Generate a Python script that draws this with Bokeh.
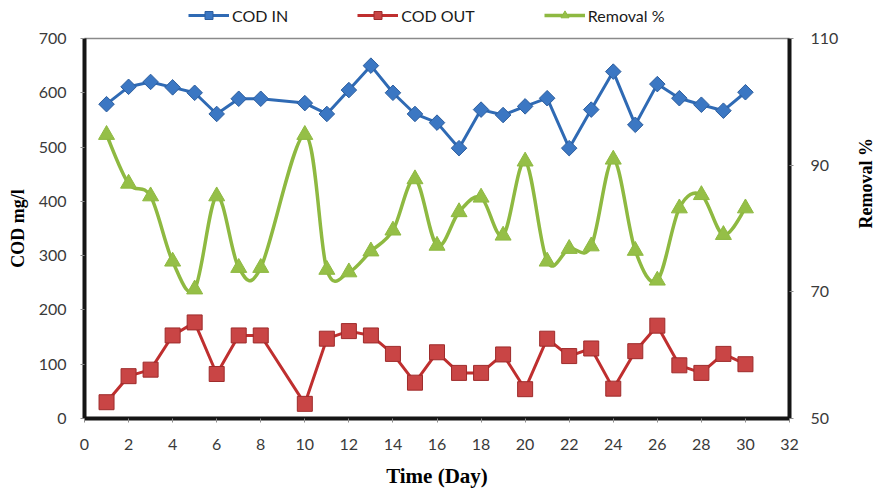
import numpy as np
from bokeh.plotting import figure
from bokeh.layouts import column
from bokeh.models import Range1d, LinearAxis, Legend, LegendItem, FixedTicker, ColumnDataSource
from bokeh.embed import file_html
from bokeh.resources import INLINE

# ---- data ----
days = [1, 2, 3, 4, 5, 6, 7, 8, 10, 11, 12, 13, 14, 15, 16, 17, 18, 19, 20, 21, 22, 23, 24, 25, 26, 27, 28, 29, 30]
cod_in = [579, 611, 620, 610, 600, 561, 589, 589, 581, 561, 605, 650, 600, 561, 545,
          498, 569, 559, 575, 590, 498, 569, 639, 541, 616, 590, 578, 567, 601]
cod_out = [30, 78, 90, 153, 177, 82, 153, 153, 27, 147, 161, 153, 119, 66, 122,
           84, 84, 118, 54, 147, 115, 129, 55, 124, 171, 98, 84, 119, 100]
removal = [94.8, 87.1, 85.1, 74.8, 70.4, 85.1, 73.8, 73.8, 94.8, 73.5, 73.1, 76.4, 79.7, 87.8, 77.3,
           82.6, 84.9, 78.9, 90.6, 74.8, 76.8, 77.2, 90.9, 76.5, 71.8, 83.2, 85.3, 79.0, 83.2]

x_ticks = list(range(0, 33, 2))
left_ticks = [0, 100, 200, 300, 400, 500, 600, 700]
right_ticks = [50, 70, 90, 110]

# ---- smoothed curve (Bezier segments built from the data points) ----
xa = np.array(days, dtype=float)
ya = np.array(removal, dtype=float)
xp = np.r_[xa[0], xa, xa[-1]]
yp = np.r_[ya[0], ya, ya[-1]]
n = len(xa)
bez = dict(x0=[], y0=[], x1=[], y1=[], cx0=[], cy0=[], cx1=[], cy1=[])
for i in range(n - 1):
    bez["x0"].append(xa[i]); bez["y0"].append(ya[i])
    bez["x1"].append(xa[i + 1]); bez["y1"].append(ya[i + 1])
    bez["cx0"].append(xa[i] + (xp[i + 2] - xp[i]) / 6.0)
    bez["cy0"].append(ya[i] + (yp[i + 2] - yp[i]) / 6.0)
    bez["cx1"].append(xa[i + 1] - (xp[i + 3] - xp[i + 1]) / 6.0)
    bez["cy1"].append(ya[i + 1] - (yp[i + 3] - yp[i + 1]) / 6.0)

src = ColumnDataSource(dict(day=days, cin=cod_in, cout=cod_out, rem=removal))
bsrc = ColumnDataSource(bez)

BLUE_L, BLUE_F, BLUE_E = "#2F6AB4", "#3B77C3", "#2D5E9E"
RED_L, RED_F, RED_E = "#BF2F2F", "#C94545", "#9E2B2B"
GRN_L, GRN_F = "#8EB941", "#95BF47"


def draw_series(fig, yname):
    a = fig.line("day", "cin", source=src, line_color=BLUE_L, line_width=3)
    b = fig.scatter("day", "cin", source=src, marker="square", angle=np.pi / 4, size=11,
                    fill_color=BLUE_F, line_color=BLUE_E, line_width=1)
    c = fig.line("day", "cout", source=src, line_color=RED_L, line_width=3)
    d = fig.scatter("day", "cout", source=src, marker="square", size=15,
                    fill_color=RED_F, line_color=RED_E, line_width=1)
    e = fig.bezier(x0="x0", y0="y0", x1="x1", y1="y1", cx0="cx0", cy0="cy0", cx1="cx1", cy1="cy1",
                   source=bsrc, line_color=GRN_L, line_width=3.5, y_range_name=yname)
    f = fig.scatter("day", "rem", source=src, marker="triangle", size=16,
                    fill_color=GRN_F, line_color=GRN_L, line_width=1, y_range_name=yname)
    return a, b, c, d, e, f


# ---- main chart ----
p = figure(width=890, height=464, x_range=Range1d(0, 32), y_range=Range1d(0, 700),
           output_backend="svg", toolbar_location=None,
           min_border_left=84, min_border_right=101, min_border_top=12, min_border_bottom=69)
p.extra_y_ranges = {"rem": Range1d(50, 110)}
p.xgrid.visible = False
p.ygrid.visible = False
p.outline_line_color = "#8a8a8a"
p.outline_line_width = 1.5
p.background_fill_color = "white"
p.border_fill_color = "white"
draw_series(p, "rem")

TICK_FONT = "Lato"
TICK_COLOR = "#3a3a3a"


def style_axis(ax):
    ax.axis_line_color = "#151515"
    ax.axis_line_width = 4
    ax.major_tick_line_color = "#8c8c8c"
    ax.major_tick_out = 4
    ax.major_tick_in = 0
    ax.minor_tick_line_color = None
    ax.major_label_text_font = TICK_FONT
    ax.major_label_text_font_size = "16px"
    ax.major_label_text_color = TICK_COLOR
    ax.major_label_standoff = 14
    ax.axis_label_text_font = "Liberation Serif"
    ax.axis_label_text_font_style = "bold"
    ax.axis_label_text_color = "black"


xa_ = p.xaxis[0]
style_axis(xa_)
xa_.ticker = FixedTicker(ticks=x_ticks)
xa_.axis_label = "Time (Day)"
xa_.axis_label_text_font_size = "21px"
xa_.major_label_standoff = 16
xa_.axis_label_standoff = 11

ya_ = p.yaxis[0]
style_axis(ya_)
ya_.ticker = FixedTicker(ticks=left_ticks)
ya_.axis_label = "COD mg/l"
ya_.axis_label_text_font_size = "18px"
ya_.axis_label_standoff = 8

ra = LinearAxis(y_range_name="rem", ticker=FixedTicker(ticks=right_ticks), axis_label="Removal %")
style_axis(ra)
ra.major_label_standoff = 17
ra.axis_label_text_font_size = "18px"
ra.axis_label_standoff = 25
ra.axis_label_orientation = np.pi / 2
p.add_layout(ra, "right")

# ---- legend strip above the chart (same series, drawn outside its visible range) ----
lg = figure(width=890, height=26, x_range=Range1d(-10, -9), y_range=Range1d(-10, -9),
            output_backend="svg", toolbar_location=None, x_axis_location=None, y_axis_location=None,
            min_border=0, min_border_left=0, min_border_right=0, min_border_top=0, min_border_bottom=0)
lg.extra_y_ranges = {"rem": Range1d(-10, -9)}
lg.xgrid.visible = False
lg.ygrid.visible = False
lg.outline_line_color = None
lg.background_fill_color = "white"
lg.border_fill_color = "white"
la, lb, lc, ld, le, lf = draw_series(lg, "rem")

legend = Legend(items=[
    LegendItem(label="COD IN", renderers=[la, lb]),
    LegendItem(label="COD OUT", renderers=[lc, ld]),
    LegendItem(label="Removal %", renderers=[le, lf]),
], orientation="horizontal", location=(104, 1))
legend.label_text_font = TICK_FONT
legend.label_text_font_size = "16px"
legend.label_text_color = "#1a1a1a"
legend.glyph_width = 41
legend.glyph_height = 20
legend.label_height = 20
legend.label_standoff = 3
legend.spacing = 69
legend.padding = 0
legend.margin = 0
legend.border_line_color = None
legend.background_fill_alpha = 0
lg.add_layout(legend)

layout = column(lg, p, spacing=0)
open("out.html", "w").write(file_html(layout, INLINE))
